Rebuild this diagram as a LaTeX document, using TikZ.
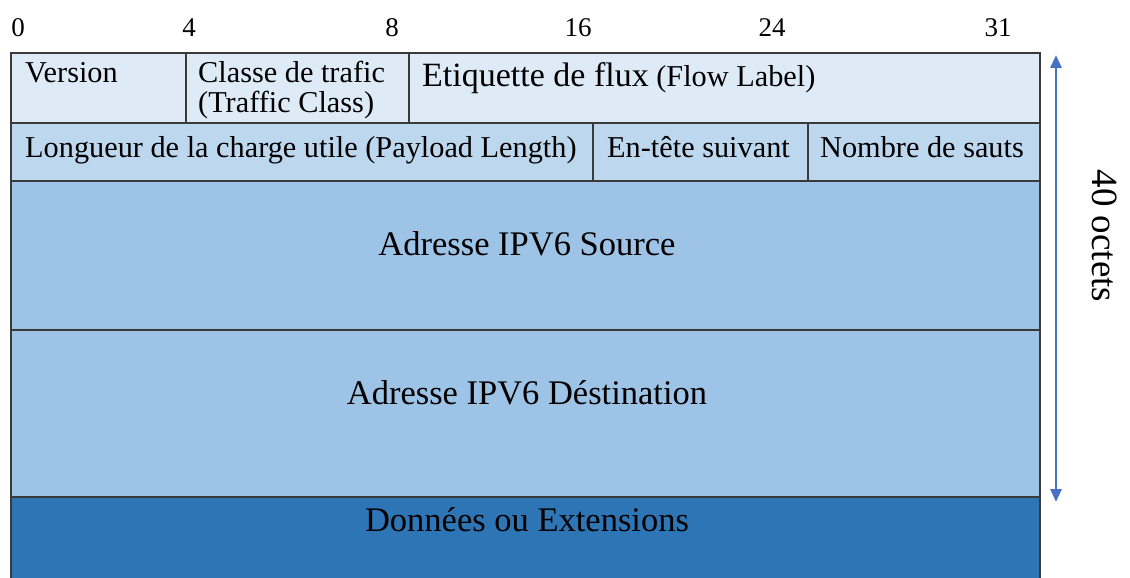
\documentclass[tikz,border=0pt]{standalone}
\usepackage{fontspec}
\setmainfont{Liberation Serif}
\usetikzlibrary{arrows.meta}
\definecolor{rowA}{HTML}{DEEBF7}
\definecolor{rowB}{HTML}{BDD7EE}
\definecolor{rowC}{HTML}{9DC3E6}
\definecolor{rowD}{HTML}{2E75B6}
\definecolor{edge}{HTML}{3A3A3A}
\definecolor{arrowblue}{HTML}{4472C4}
\tikzset{
  cell/.style={draw=edge, line width=1.3pt, inner sep=0pt, outer sep=0pt},
  lbl/.style={inner sep=0pt, anchor=base west, font=\fontsize{30.3}{31}\selectfont},
  biglbl/.style={inner sep=0pt, anchor=base, font=\fontsize{34.5}{35}\selectfont},
  bitnum/.style={inner sep=0pt, anchor=base, font=\fontsize{27}{28}\selectfont},
  span/.style={draw=arrowblue, line width=2.8pt, {Triangle[length=13pt,width=11pt]}-{Triangle[length=13pt,width=11pt]}}
}
\begin{document}
\begin{tikzpicture}[x=1pt,y=-1pt]
\useasboundingbox (0,0) rectangle (1130,578);
% bit positions
\node[bitnum] (b0)  at (18,37)  {0};
\node[bitnum] (b4)  at (189,37) {4};
\node[bitnum] (b8)  at (392,37) {8};
\node[bitnum] (b16) at (578,37) {16};
\node[bitnum] (b24) at (772,37) {24};
\node[bitnum] (b31) at (998,37) {31};
% header cells
\path[cell, fill=rowD] (11,497) rectangle (1040,590);
\node[cell, fill=rowA, minimum width=175pt, minimum height=70pt, anchor=north west] (ver) at (11,53) {};
\node[cell, fill=rowA, minimum width=223pt, minimum height=70pt, anchor=north west] (tc)  at (186,53) {};
\node[cell, fill=rowA, minimum width=631pt, minimum height=70pt, anchor=north west] (fl)  at (409,53) {};
\node[cell, fill=rowB, minimum width=582pt, minimum height=58pt, anchor=north west] (pl)  at (11,123) {};
\node[cell, fill=rowB, minimum width=215pt, minimum height=58pt, anchor=north west] (nh)  at (593,123) {};
\node[cell, fill=rowB, minimum width=232pt, minimum height=58pt, anchor=north west] (hl)  at (808,123) {};
\node[cell, fill=rowC, minimum width=1029pt, minimum height=149pt, anchor=north west] (src) at (11,181) {};
\node[cell, fill=rowC, minimum width=1029pt, minimum height=167pt, anchor=north west] (dst) at (11,330) {};
% labels
\node[lbl] at ([xshift=14pt,yshift=-29pt]ver.north west) {Version};
\node[lbl] at ([xshift=12pt,yshift=-29pt]tc.north west) {Classe de trafic};
\node[lbl] at ([xshift=12pt,yshift=-59pt]tc.north west) {(Traffic Class)};
\node[lbl] at ([xshift=13pt,yshift=-34pt]fl.north west) {{\fontsize{34}{34}\selectfont Etiquette de flux} (Flow Label)};
\node[lbl] at ([xshift=14pt,yshift=-34pt]pl.north west) {Longueur de la charge utile (Payload Length)};
\node[lbl] at ([xshift=14pt,yshift=-34pt]nh.north west) {En-tête suivant};
\node[lbl] at ([xshift=12pt,yshift=-34pt]hl.north west) {Nombre de sauts};
\node[biglbl] (srct) at (527,255) {Adresse IPV6 Source};
\node[biglbl] (dstt) at (527,404) {Adresse IPV6 Déstination};
\node[biglbl] (datt) at (527,531) {Données ou Extensions};
% overall size marker
\coordinate (topend) at (1056,55);
\coordinate (botend) at (1056,502);
\draw[span] (topend) -- (botend);
\node[inner sep=0pt, rotate=-90, font=\fontsize{37}{38}\selectfont] (size) at (1105,236) {40 octets};
\end{tikzpicture}
\end{document}
